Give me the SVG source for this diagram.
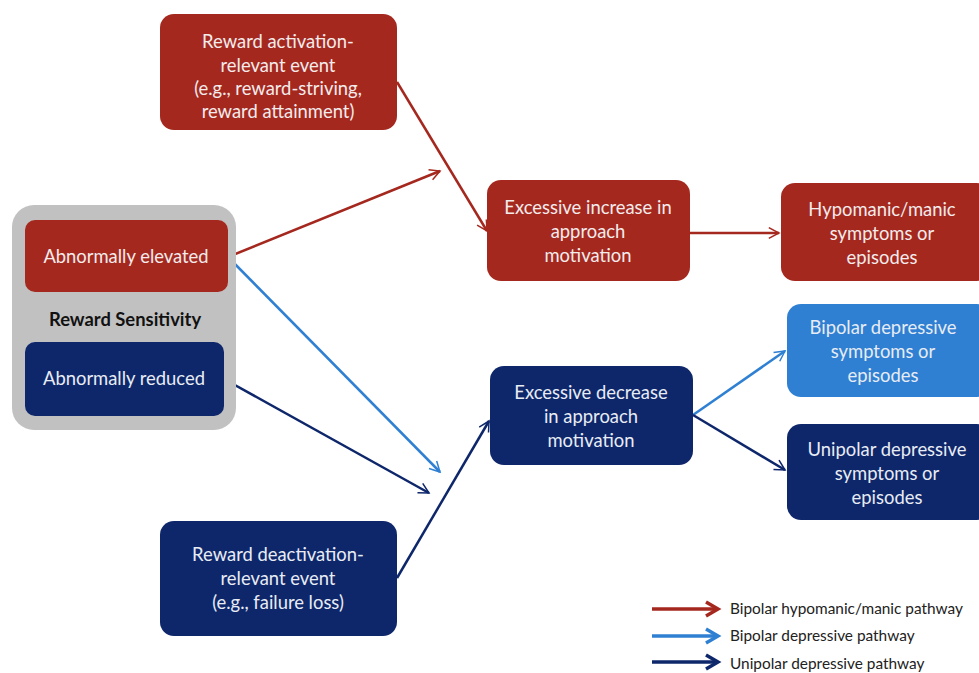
<svg xmlns="http://www.w3.org/2000/svg" width="979" height="673" viewBox="0 0 979 673">
<defs>
<style>
.red{fill:#a5281f}
.dark{fill:#0e276b}
.light{fill:#2f80d2}
.t{font-family:Lato,"Liberation Sans",sans-serif;font-size:18.4px;text-anchor:middle;fill:#f3ecec}
.tb{fill:#e8ecf4}
.lg{font-family:Lato,"Liberation Sans",sans-serif;font-size:15.4px;fill:#222}
.cr{stroke:#a5281f;stroke-width:2.5;fill:none}
.cd{stroke:#0e276b;stroke-width:2.5;fill:none}
.cl{stroke:#2f80d2;stroke-width:2.5;fill:none}
</style>
<marker id="mr" viewBox="0 0 10 10" refX="9" refY="5" markerWidth="6" markerHeight="6" markerUnits="userSpaceOnUse" orient="auto" overflow="visible"><path d="M-8,-4 L9,5 L-8,14" fill="none" stroke="#a5281f" stroke-width="2.5"/></marker>
<marker id="md" viewBox="0 0 10 10" refX="9" refY="5" markerWidth="6" markerHeight="6" markerUnits="userSpaceOnUse" orient="auto" overflow="visible"><path d="M-8,-4 L9,5 L-8,14" fill="none" stroke="#0e276b" stroke-width="2.5"/></marker>
<marker id="ml" viewBox="0 0 10 10" refX="9" refY="5" markerWidth="6" markerHeight="6" markerUnits="userSpaceOnUse" orient="auto" overflow="visible"><path d="M-8,-4 L9,5 L-8,14" fill="none" stroke="#2f80d2" stroke-width="2.5"/></marker>
</defs>
<rect width="979" height="673" fill="#ffffff"/>

<g id="connectors">
<path class="cr" d="M228,257 L440,171" marker-end="url(#mr)"/>
<path class="cr" d="M397,82 L487,231" marker-end="url(#mr)"/>
<path class="cr" d="M690,233 L779,233" marker-end="url(#mr)"/>
<path class="cl" d="M228,257 L440,472" marker-end="url(#ml)"/>
<path class="cd" d="M224,379 L429,493" marker-end="url(#md)"/>
<path class="cd" d="M397,578 L489,421" marker-end="url(#md)"/>
<path class="cl" d="M693,415 L785,351" marker-end="url(#ml)"/>
<path class="cd" d="M693,415 L785,470" marker-end="url(#md)"/>
</g>

<g id="sensitivity">
<rect x="12" y="205" width="224" height="225" rx="22" fill="#c1c1c1"/>
<text x="125" y="326" font-family="Lato,'Liberation Sans',sans-serif" font-size="18.4" font-weight="bold" text-anchor="middle" fill="#111">Reward Sensitivity</text>
</g>
<g id="elevated">
<rect class="red" x="25" y="220" width="203" height="72" rx="10"/>
<text class="t" x="126" y="263">Abnormally elevated</text>
</g>
<g id="reduced">
<rect class="dark" x="25" y="342" width="199" height="74" rx="10"/>
<text class="t tb" x="124" y="385">Abnormally reduced</text>
</g>
<g id="activation">
<rect class="red" x="160" y="14" width="237" height="116" rx="14"/>
<text class="t" x="278" y="48">Reward activation-</text>
<text class="t" x="278" y="72">relevant event</text>
<text class="t" x="278" y="95">(e.g., reward-striving,</text>
<text class="t" x="278" y="118">reward attainment)</text>
</g>
<g id="deactivation">
<rect class="dark" x="160" y="521" width="237" height="115" rx="14"/>
<text class="t tb" x="278" y="561">Reward deactivation-</text>
<text class="t tb" x="278" y="585">relevant event</text>
<text class="t tb" x="278" y="609">(e.g., failure loss)</text>
</g>
<g id="increase">
<rect class="red" x="487" y="180" width="203" height="101" rx="14"/>
<text class="t" x="588" y="214">Excessive increase in</text>
<text class="t" x="588" y="238">approach</text>
<text class="t" x="588" y="262">motivation</text>
</g>
<g id="decrease">
<rect class="dark" x="490" y="366" width="203" height="99" rx="14"/>
<text class="t tb" x="591" y="399">Excessive decrease</text>
<text class="t tb" x="591" y="423">in approach</text>
<text class="t tb" x="591" y="447">motivation</text>
</g>
<g id="hypomanic">
<rect class="red" x="781" y="183" width="210" height="98" rx="14"/>
<text class="t" x="882" y="216">Hypomanic/manic</text>
<text class="t" x="882" y="240">symptoms or</text>
<text class="t" x="882" y="264">episodes</text>
</g>
<g id="bipolar">
<rect class="light" x="787" y="304" width="204" height="93" rx="14"/>
<text class="t tb" x="883" y="334">Bipolar depressive</text>
<text class="t tb" x="883" y="358">symptoms or</text>
<text class="t tb" x="883" y="382">episodes</text>
</g>
<g id="unipolar">
<rect class="dark" x="787" y="424" width="204" height="96" rx="14"/>
<text class="t tb" x="887" y="456">Unipolar depressive</text>
<text class="t tb" x="887" y="480">symptoms or</text>
<text class="t tb" x="887" y="504">episodes</text>
</g>

<g id="legend">
<path d="M652,609 L716,609" stroke="#a5281f" stroke-width="3.5" fill="none"/>
<path d="M706,602 L718,609 L706,616" stroke="#a5281f" stroke-width="3.5" fill="none"/>
<path d="M652,636 L716,636" stroke="#2f80d2" stroke-width="3.5" fill="none"/>
<path d="M706,629 L718,636 L706,643" stroke="#2f80d2" stroke-width="3.5" fill="none"/>
<path d="M652,662 L716,662" stroke="#0e276b" stroke-width="3.5" fill="none"/>
<path d="M706,655 L718,662 L706,669" stroke="#0e276b" stroke-width="3.5" fill="none"/>
<text class="lg" x="730" y="614">Bipolar hypomanic/manic pathway</text>
<text class="lg" x="730" y="641">Bipolar depressive pathway</text>
<text class="lg" x="730" y="669">Unipolar depressive pathway</text>
</g>
</svg>
